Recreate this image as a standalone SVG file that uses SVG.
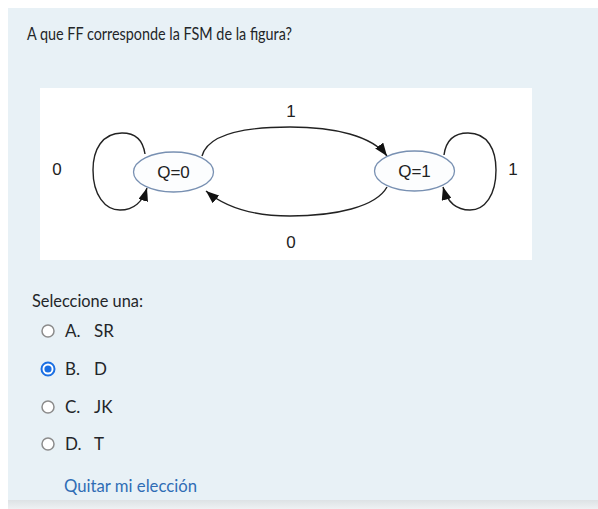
<svg xmlns="http://www.w3.org/2000/svg" width="598" height="509" viewBox="0 0 598 509">
<defs>
<style>
.q{font-family:Lato,"Liberation Sans",sans-serif;fill:#232629;}
.o{font-family:Lato,"Liberation Sans",sans-serif;fill:#232629;font-size:17px;}
.d{font-family:"Liberation Sans",Arial,sans-serif;fill:#222;font-size:17px;text-anchor:middle;}
.st{fill:#fcfdfe;stroke:#7890b2;stroke-width:1.3;}
.e{fill:none;stroke:#222;stroke-width:1.4;}
.rb{fill:#fff;stroke:#8c8c8c;stroke-width:1.5;}
</style>
<marker id="ah" markerWidth="14" markerHeight="10" refX="13" refY="5" orient="auto" markerUnits="userSpaceOnUse">
<path d="M0,0 L13,5 L0,10 Z" fill="#111"/>
</marker>
<linearGradient id="bot" x1="0" y1="0" x2="0" y2="1">
<stop offset="0" stop-color="#dde2e5"/>
<stop offset="1" stop-color="#eef1f3"/>
</linearGradient>
</defs>
<rect x="0" y="0" width="598" height="509" fill="#ffffff"/>
<rect x="8" y="8" width="590" height="493" fill="#e8f1f6"/>
<rect x="8" y="500" width="590" height="9" fill="url(#bot)"/>
<text class="q" x="27" y="40" font-size="17" textLength="265" lengthAdjust="spacingAndGlyphs">A que FF corresponde la FSM de la figura?</text>
<rect x="40" y="88" width="492" height="172" fill="#ffffff"/>
<g id="connectors">
<path class="e" marker-end="url(#ah)" d="M202,156 C208,134 245,127 290,127 C335,127 372,136 387,156"/>
<path class="e" marker-end="url(#ah)" d="M387,187 C376,207 335,216 290,216 C255,216 226,208 206,191"/>
<path class="e" marker-end="url(#ah)" d="M145,154 C143,140 135,133 122,133 C102,133 93,150 93,170 C93,195 105,210 120,210 C134,210 143,201 147,188"/>
<path class="e" marker-end="url(#ah)" d="M444,155 C446,140 455,133 468,133 C488,133 496,150 496,170 C496,195 485,210 470,210 C456,210 447,201 443,187"/>
<text class="d" x="291" y="117">1</text>
<text class="d" x="291" y="248">0</text>
<text class="d" x="57" y="175">0</text>
<text class="d" x="513" y="175">1</text>
</g>
<g id="q0">
<ellipse class="st" cx="173.5" cy="172" rx="40" ry="20"/>
<text class="d" x="173.5" y="178">Q=0</text>
</g>
<g id="q1">
<ellipse class="st" cx="414.5" cy="171" rx="40" ry="20"/>
<text class="d" x="414.5" y="177">Q=1</text>
</g>
<text class="q" x="32" y="307" font-size="17" textLength="111" lengthAdjust="spacingAndGlyphs">Seleccione una:</text>
<g id="optA">
<circle class="rb" cx="48" cy="331" r="6"/>
<text class="o" x="65" y="337">A.</text>
<text class="o" x="94" y="337">SR</text>
</g>
<g id="optB">
<circle cx="48" cy="369" r="6.5" fill="#fff" stroke="#1a6fe3" stroke-width="2"/>
<circle cx="48" cy="369" r="3.6" fill="#1a6fe3"/>
<text class="o" x="65" y="375">B.</text>
<text class="o" x="94" y="375">D</text>
</g>
<g id="optC">
<circle class="rb" cx="48" cy="407" r="6"/>
<text class="o" x="65" y="413">C.</text>
<text class="o" x="94" y="413">JK</text>
</g>
<g id="optD">
<circle class="rb" cx="48" cy="444" r="6"/>
<text class="o" x="65" y="450">D.</text>
<text class="o" x="94" y="450">T</text>
</g>
<text x="64" y="492" font-family="Lato,'Liberation Sans',sans-serif" font-size="17" fill="#2f6db5" textLength="133" lengthAdjust="spacingAndGlyphs">Quitar mi elección</text>
</svg>
